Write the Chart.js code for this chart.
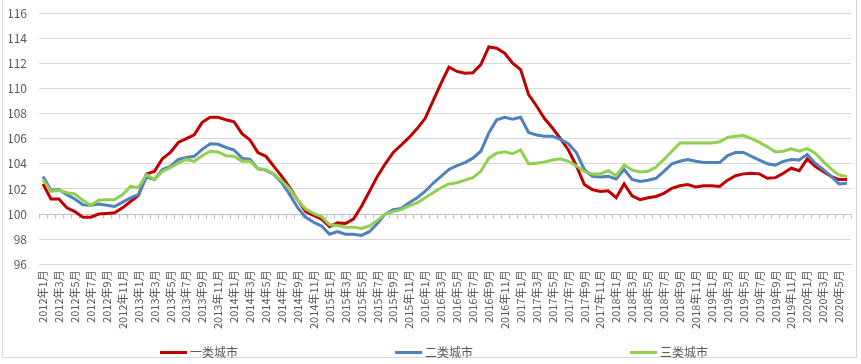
<!DOCTYPE html>
<html>
<head>
<meta charset="utf-8">
<script src="https://cdn.jsdelivr.net/npm/chart.js@4/dist/chart.umd.min.js"></script>
<style>
  html, body { margin: 0; padding: 0; background: #fff; }
  #wrap { position: relative; width: 861px; height: 364px; overflow: hidden; }
  #c { position: absolute; left: 0; top: 0; }
  #frame { position: absolute; left: 2px; top: -2px; width: 855px; height: 360px; border: 1px solid #d9d9d9; box-sizing: border-box; pointer-events: none; }
  #legend { position: absolute; top: 344px; left: 0; width: 861px; height: 16px; font-family: "Noto Sans CJK SC", sans-serif; font-size: 12px; color: #595959; }
  .item { position: absolute; top: 0; height: 16px; line-height: 16px; white-space: nowrap; }
  .swatch { display: inline-block; width: 27px; height: 3px; vertical-align: middle; margin-right: 3px; position: relative; top: -1px; }
</style>
</head>
<body>
<div id="wrap">
  <canvas id="c" width="861" height="364"></canvas>
  <div id="frame"></div>
  <div id="legend"></div>
</div>
<script>
const categories = [
 "2012年1月","2012年2月","2012年3月","2012年4月","2012年5月","2012年6月","2012年7月","2012年8月","2012年9月","2012年10月","2012年11月","2012年12月",
 "2013年1月","2013年2月","2013年3月","2013年4月","2013年5月","2013年6月","2013年7月","2013年8月","2013年9月","2013年10月","2013年11月","2013年12月",
 "2014年1月","2014年2月","2014年3月","2014年4月","2014年5月","2014年6月","2014年7月","2014年8月","2014年9月","2014年10月","2014年11月","2014年12月",
 "2015年1月","2015年2月","2015年3月","2015年4月","2015年5月","2015年6月","2015年7月","2015年8月","2015年9月","2015年10月","2015年11月","2015年12月",
 "2016年1月","2016年2月","2016年3月","2016年4月","2016年5月","2016年6月","2016年7月","2016年8月","2016年9月","2016年10月","2016年11月","2016年12月",
 "2017年1月","2017年2月","2017年3月","2017年4月","2017年5月","2017年6月","2017年7月","2017年8月","2017年9月","2017年10月","2017年11月","2017年12月",
 "2018年1月","2018年2月","2018年3月","2018年4月","2018年5月","2018年6月","2018年7月","2018年8月","2018年9月","2018年10月","2018年11月","2018年12月",
 "2019年1月","2019年2月","2019年3月","2019年4月","2019年5月","2019年6月","2019年7月","2019年8月","2019年9月","2019年10月","2019年11月","2019年12月",
 "2020年1月","2020年2月","2020年3月","2020年4月","2020年5月","2020年6月"
];

const seriesNames = ["一类城市", "二类城市", "三类城市"];

const tier1 = [
 102.4,101.2,101.2,100.5,100.2,99.75,99.75,100.0,100.05,100.1,100.5,101.0,
 101.5,103.2,103.4,104.4,104.9,105.7,106.0,106.3,107.3,107.7,107.7,107.5,
 107.35,106.4,105.9,104.9,104.6,103.8,103.0,102.1,101.1,100.2,99.9,99.6,
 99.0,99.3,99.25,99.6,100.6,101.8,103.0,104.0,104.9,105.5,106.1,106.8,
 107.6,109.0,110.4,111.7,111.35,111.2,111.25,111.9,113.3,113.2,112.8,112.0,
 111.5,109.5,108.6,107.6,106.85,106.0,105.1,103.85,102.35,101.95,101.8,101.85,
 101.3,102.4,101.45,101.15,101.3,101.4,101.65,102.05,102.25,102.35,102.15,102.25,
 102.25,102.2,102.7,103.05,103.2,103.25,103.2,102.85,102.9,103.25,103.65,103.45,
 104.4,103.8,103.4,103.0,102.75,102.75
];

const tier2 = [
 103.0,101.9,101.95,101.55,101.2,100.75,100.7,100.8,100.7,100.6,100.95,101.3,
 101.55,102.95,102.75,103.55,103.8,104.35,104.5,104.6,105.15,105.6,105.55,105.3,
 105.1,104.45,104.35,103.6,103.5,103.15,102.5,101.55,100.5,99.75,99.35,99.05,
 98.4,98.6,98.4,98.4,98.3,98.6,99.25,100.0,100.35,100.45,100.9,101.3,
 101.8,102.45,103.0,103.55,103.85,104.1,104.45,105.0,106.45,107.5,107.7,107.55,
 107.7,106.5,106.3,106.2,106.2,105.95,105.6,104.9,103.55,103.0,102.95,103.0,
 102.8,103.55,102.75,102.6,102.7,102.85,103.4,104.0,104.2,104.35,104.2,104.1,
 104.1,104.1,104.65,104.9,104.9,104.6,104.3,104.0,103.9,104.2,104.35,104.3,
 104.75,104.05,103.55,103.0,102.4,102.45
];

const tier3 = [
 102.75,101.8,101.9,101.7,101.6,101.1,100.7,101.1,101.15,101.15,101.55,102.2,
 102.1,103.15,102.75,103.4,103.7,104.05,104.35,104.2,104.65,105.0,104.95,104.65,
 104.6,104.2,104.2,103.6,103.55,103.2,102.65,102.0,101.1,100.4,100.05,99.8,
 99.15,99.1,98.95,98.95,98.85,99.05,99.5,100.0,100.2,100.35,100.65,100.9,
 101.3,101.7,102.1,102.4,102.5,102.7,102.9,103.4,104.45,104.85,104.95,104.8,
 105.1,104.0,104.05,104.15,104.3,104.4,104.2,103.85,103.4,103.2,103.2,103.45,
 103.05,103.9,103.5,103.35,103.4,103.75,104.35,105.0,105.65,105.65,105.65,105.65,
 105.65,105.75,106.1,106.2,106.25,106.0,105.7,105.35,104.95,105.0,105.2,105.0,
 105.2,104.85,104.2,103.6,103.1,103.0
];

const colors = ["#C00000", "#4F81BD", "#92D050"];
const fontFamily = '"Noto Sans CJK SC", "Noto Sans", sans-serif';

// tick marks on the category axis line drawn at value 100
const crossTicks = {
  id: 'crossTicks',
  beforeDatasetsDraw(chart) {
    const x = chart.scales.x, y = chart.scales.y;
    const yy = Math.round(y.getPixelForValue(100)) + 0.5;
    const ctx = chart.ctx;
    ctx.save();
    ctx.strokeStyle = '#bfbfbf';
    ctx.lineWidth = 1;
    ctx.beginPath();
    const n = categories.length;
    const step = (x.right - x.left) / n;
    for (let k = 0; k <= n; k++) {
      const px = Math.round(x.left + k * step) + 0.5;
      ctx.moveTo(px, yy);
      ctx.lineTo(px, yy + 4);
    }
    ctx.stroke();
    ctx.restore();
  }
};

const datasets = [tier1, tier2, tier3].map((d, i) => ({
  label: seriesNames[i],
  data: d,
  borderColor: colors[i],
  backgroundColor: colors[i],
  borderWidth: 3,
  pointRadius: 0,
  tension: 0,
  fill: false,
  order: 3 - i
}));

new Chart(document.getElementById('c'), {
  type: 'line',
  data: { labels: categories, datasets },
  options: {
    responsive: false,
    animation: false,
    layout: { padding: { left: 9, right: 10, top: 13, bottom: 29 } },
    plugins: { legend: { display: false }, tooltip: { enabled: false } },
    scales: {
      x: {
        type: 'category',
        offset: true,
        afterFit: s => { s.paddingLeft = 0; s.paddingRight = 0; },
        grid: { display: false, drawTicks: false },
        border: { display: true, color: '#d9d9d9' },
        ticks: {
          autoSkip: false,
          maxRotation: 90,
          minRotation: 90,
          padding: 6,
          color: '#595959',
          font: { family: fontFamily, size: 11 },
          callback: function (v, idx) { return idx % 2 === 0 ? categories[idx] : ''; }
        }
      },
      y: {
        min: 96,
        max: 116,
        afterFit: s => { s.paddingTop = 0; s.paddingBottom = 0; s.width = 30; },
        grid: {
          color: ctx => (ctx.tick && ctx.tick.value === 100) ? '#bfbfbf' : '#d9d9d9',
          drawTicks: false
        },
        border: { display: false },
        ticks: {
          stepSize: 2,
          padding: 12,
          color: '#595959',
          font: { family: fontFamily, size: 12 }
        }
      }
    }
  },
  plugins: [crossTicks]
});

// legend as real text
const legendPositions = [160, 395, 630];
const legend = document.getElementById('legend');
seriesNames.forEach((name, i) => {
  const it = document.createElement('div');
  it.className = 'item';
  it.style.left = legendPositions[i] + 'px';
  const sw = document.createElement('span');
  sw.className = 'swatch';
  sw.style.background = colors[i];
  it.appendChild(sw);
  it.appendChild(document.createTextNode(name));
  legend.appendChild(it);
});
</script>
</body>
</html>
